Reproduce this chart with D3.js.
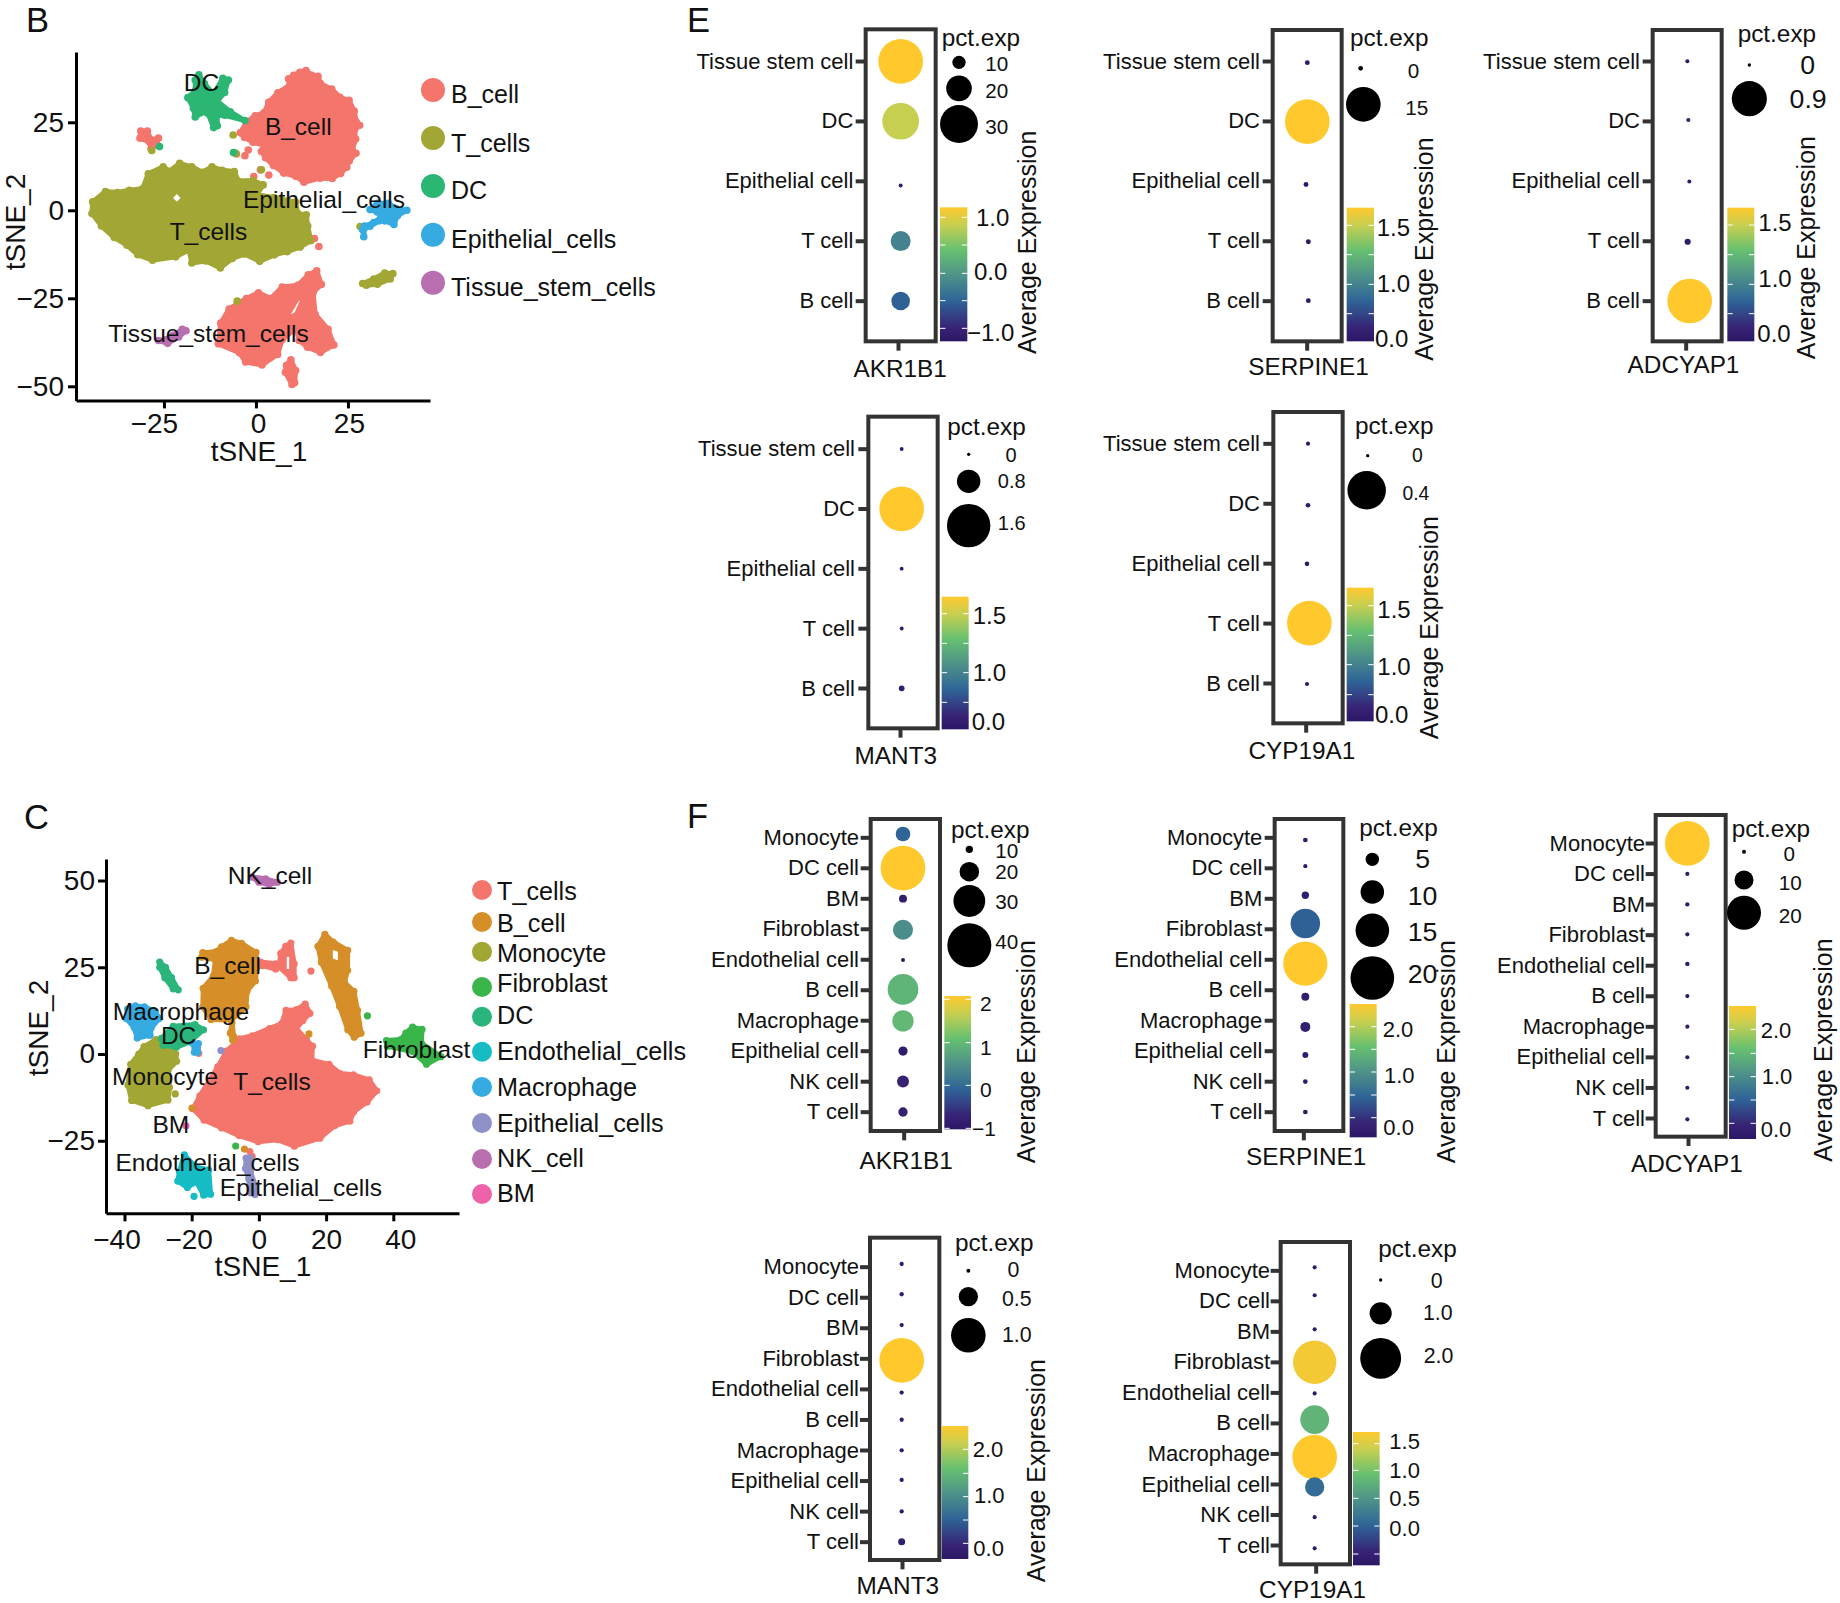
<!DOCTYPE html>
<html><head><meta charset="utf-8">
<script src="https://cdn.jsdelivr.net/npm/d3@7"></script>
<style>html,body{margin:0;background:#fff}text{font-family:"Liberation Sans",Arial,sans-serif;fill:#111}</style>
</head><body><div id="chart"></div>
<script>
/* ---------- t-SNE panel B: cluster outlines in tSNE units ---------- */
const bBCellMain=[[11.8,40.3],[13.6,40.8],[15.3,39.4],[17.1,39.1],[17.9,37],[21.2,35.3],[23.6,32.8],[26.2,31.8],[27.7,28.5],[28.3,25.2],[29.2,24.2],[27.7,22.3],[28.1,20],[27.1,16.7],[28.1,15.7],[26.2,13.4],[25.4,11.5],[23.6,9.6],[21.2,8.1],[17.7,8.1],[13,6.9],[10.6,8.6],[7.1,9.6],[4.1,11.9],[1.8,14.3],[0.6,16.2],[1.2,18.1],[-1.8,19],[-4.1,20.5],[-5.3,21.9],[-3.5,25.2],[-1.2,27.1],[1.2,28],[2.6,31.3],[5.3,34.2],[8.8,36.6],[8.5,38.4],[10,39.4]];
const bBCellSmall=[[-31.3,22.5],[-29.5,22.5],[-28.5,20],[-26.5,20.5],[-27,18.5],[-28.5,17.5],[-29,19.5],[-31.5,20.5]];
const bBCellLower=[[17.1,-16.3],[18.5,-20.3],[16.3,-22.6],[17.1,-29.3],[20.6,-34],[22.1,-38.7],[18.3,-41.1],[14.7,-39.7],[12.4,-37.8],[11.8,-34],[7.1,-37.8],[5.7,-42],[1.2,-44.9],[-3.5,-43.9],[-5.3,-41.1],[-11.2,-38.3],[-10.6,-32.1],[-8.3,-27.8],[-3.5,-24.5],[0,-22.6],[3.5,-24.1],[7.1,-20.7],[11.8,-20.3],[14.7,-17.4]];
const bBCellTail=[[9.5,-42.5],[10.8,-45.5],[10.5,-49],[9.8,-49.5],[8,-46],[8.3,-44]];
const bBCellDots=[[-2.1,17.1],[-5.3,16],[1.2,11.5],[-0.6,9.6],[3.5,10],[15.9,-8],[17.1,-10.3],[-3,15.5]];
const bTCellMain=[[-45.4,2.5],[-41.9,5.6],[-38.7,5.3],[-35.4,6],[-31.8,6.5],[-30.1,11],[-25.9,13.2],[-24.2,11.9],[-21.2,14.3],[-17.7,13.4],[-14.7,11.9],[-11.8,13.4],[-8.8,12.4],[-5.3,11.9],[-4.1,9.1],[0,9.1],[2.9,7.7],[1.2,4.8],[5.9,3.9],[11.8,2.5],[12.4,-0.9],[14.7,-1.3],[15.1,-4.6],[15.9,-8.9],[13,-10.8],[9.4,-12.2],[5.9,-13.2],[1.8,-15.2],[-2.4,-13.2],[-5.9,-14.6],[-9.4,-17.4],[-13.6,-15.5],[-17.7,-16],[-18.6,-12.2],[-22.4,-14.1],[-28.9,-14.9],[-33,-13.2],[-36,-10.3],[-39.5,-8],[-43,-4.6],[-45.6,-0.9]];
const bTCellStrip=[[29,-20.8],[32,-19.5],[35,-17.8],[37.2,-18],[36.5,-19.5],[33,-21],[30,-21.3]];
const bTCellDots=[[-6.2,21.4],[-5.5,16.2],[1.5,11.5],[28.3,-4.6],[-5.1,-25.8],[-28.3,17]];
const bDCMain=[[-15.5,38.5],[-14,36],[-11.5,33],[-9,37.5],[-7.5,37],[-8.5,33.5],[-10.5,31],[-7,28],[-3,25.5],[-8.5,27],[-10.5,27],[-10.5,24],[-11.5,23.5],[-13,27.5],[-14,28],[-16.5,26.5],[-17,29],[-18.5,32],[-16.5,34],[-16.5,37]];
const bDCDots=[[-6.1,16.4],[-26.2,18.1]];
const bEpithelialMain=[[31,0.2],[33,2],[36,2],[38,0.5],[41,0],[38.5,-1.5],[37.5,-4],[35,-3],[33.5,-3],[31,-4.5],[29.5,-5],[29.3,-7.5],[29,-5.5],[29.5,-4.5],[32,-3.5],[34,-2],[33,-0.5]];
const bTissueMain=[[-26.5,-37],[-24.5,-36.8],[-22.5,-35.5],[-20,-33.8],[-19,-34.2],[-21,-36],[-24,-37.8]];
const bHoleT=[[-22.5,3.5],[-21.5,4.6],[-20.5,3.5],[-21.5,2.4]];
const bHoleLower=[[9.5,-29.5],[11.5,-26],[12,-25.5],[10.5,-29]];
const bLegendNames=["B_cell","T_cells","DC","Epithelial_cells","Tissue_stem_cells"];
const bLabels=[["DC",-14.8,36.2],["B_cell",11.5,23.9],["Epithelial_cells",18.5,3.2],["T_cells",-12.9,-5.9],["Tissue_stem_cells",-12.9,-35]];
const bTicksX=[-25,0,25], bTicksY=[-50,-25,0,25];

/* ---------- t-SNE panel C ---------- */
const cTMain=[[14,15.4],[15.5,12.7],[13.3,10.7],[11.3,8.3],[14.6,5],[16.6,3.1],[16.6,-1.2],[21.9,-2.7],[25.2,-5.6],[29.2,-6],[33.9,-7.5],[36.1,-10.8],[33.2,-14.2],[29.2,-17.1],[27.9,-20],[23.3,-21.4],[18.6,-25.2],[10.6,-27.6],[5.3,-25.7],[-0.7,-26.2],[-6.6,-24.3],[-12,-21.9],[-17.3,-19.5],[-20.6,-16.1],[-18.6,-12.3],[-13.3,-3.6],[-10.6,1.2],[-6.6,5],[-2.7,6],[2.7,8.3],[6.6,9.8],[8,13.6],[11.3,13.8]];
const cTUpper=[[9.5,32],[10.5,26],[10.5,22],[9.5,22],[6,25.2],[6.5,29],[8,31]];
const cTUpperExt=[[0.5,26.5],[5,26],[5,24.5],[1,25.5]];
const cTDots=[[15.5,23.9],[-17.9,0.2],[-18.3,1.6],[-2.7,-28.1],[-2,-29.5]];
const cBLeft=[[-8,33.8],[-4.7,32.8],[0,29.9],[0.4,25.1],[0,20.8],[-2.7,17.5],[-3.3,12.7],[-8,8.8],[-14.6,9],[-17.3,12.7],[-17.5,18.4],[-14.6,22.3],[-13.6,28],[-17.9,28.5],[-17.5,29.9],[-13.3,30.4],[-11.3,31.9]];
const cBTail=[[-8,9],[-7.5,5],[-7.8,4],[-8.5,6]];
const cBRight=[[19.3,35.5],[21.9,33.3],[26.6,30.9],[26.8,25.1],[26.3,21.3],[29.2,17.5],[29.9,11.7],[30.8,5],[28.6,3.8],[26.6,6],[23.9,12.7],[20.6,19.4],[17.9,27.1],[17,31.9]];
const cBDots=[[14.9,5.8],[-4.3,-27.4],[-19.9,-15.6]];
const cMonocyte=[[-30.6,5.2],[-26.6,3.1],[-23.9,0.7],[-23.5,-1.7],[-25.9,-4.6],[-25.9,-10.4],[-26.6,-14.2],[-33.2,-15.9],[-38.5,-14.2],[-39.9,-9.4],[-39.2,-2.7],[-36.5,0.7],[-34.6,3.1]];
const cMonocyteDots=[[-24.9,-11.5]];
const cFibroblast=[[45.8,8.8],[49.2,7.9],[49.4,3.1],[55.1,-1.2],[50.5,-3.8],[45.8,-0.3],[37.2,2.1],[36.9,4],[41.2,4.5],[43.2,6.9]];
const cFibroblastDots=[[32.3,11],[-6.9,-26.5]];
const cDCStrip=[[-29.5,26.5],[-27.8,25],[-26,22],[-24,18.5],[-25.5,18.8],[-28,22],[-29.5,25]];
const cDCCenter=[[-29,4.5],[-25.5,8],[-19,8.5],[-16.5,7],[-20.5,3.5],[-24.5,2],[-28.5,2.5]];
const cEndothelial=[[-22.6,-28.1],[-18.6,-31.5],[-14,-32.9],[-13.6,-41.1],[-15.9,-41.6],[-17.9,-37.7],[-21.9,-39.3],[-25.2,-36.8],[-24.6,-33.4]];
const cEndothelialDots=[[-19.3,-41]];
const cMacrophage=[[-37.2,14.8],[-33.9,14.6],[-29.9,12.7],[-28.6,10.3],[-31.2,6.9],[-31.9,4.5],[-36.5,3.6],[-37.9,6.9],[-40.5,10.3],[-39.9,13.6]];
const cMacrophageSmall=[[-19.5,3],[-18,3],[-18.2,0.5],[-19.2,0.5]];
const cEpithelial=[[-3.8,-30],[-2.5,-30],[-2.5,-34],[-1,-38],[-1.2,-40.5],[-2.5,-40],[-3,-36],[-4,-33]];
const cEpithelialDots=[[-11.3,1]];
const cNK=[[-2,51],[2,50.5],[5.5,49.5],[3,48.8],[0,49.5]];
const cBMDots=[[-21.7,-20.7]];
const cHoleRight=[[22,30],[23.5,29.5],[23.5,27],[22,27.5]];
const cHoleUpper=[[8.3,28],[9,28],[9,24.5],[8.3,24.5]];
const cLegendNames=["T_cells","B_cell","Monocyte","Fibroblast","DC","Endothelial_cells","Macrophage","Epithelial_cells","NK_cell","BM"];
const cLabels=[["NK_cell",3.3,51.6],["B_cell",-9.3,25.6],["Macrophage",-23.2,12.2],["DC",-23.9,5.5],["Fibroblast",46.9,1.4],["Monocyte",-27.9,-6.5],["T_cells",3.9,-8],["BM",-26.2,-20.2],["Endothelial_cells",-15.3,-31.3],["Epithelial_cells",12.5,-38.4]];
const cTicksX=[-40,-20,0,20,40], cTicksY=[-25,0,25,50];

/* ---------- dot plots ---------- */
const cellsE=["Tissue stem cell","DC","Epithelial cell","T cell","B cell"];
const cellsF=["Monocyte","DC cell","BM","Fibroblast","Endothelial cell","B cell","Macrophage","Epithelial cell","NK cell","T cell"];
const pctE1=[35.5,29,2.4,15.4,14.3], avgE1=[1.19,0.87,-1.12,-0.2,-0.52];
const pctE2=[0.1,20,0.1,0.15,0.1],   avgE2=[0.05,1.67,0.05,0.03,0.04];
const pctE3=[0.02,0.02,0.02,0.08,1.17], avgE3=[0.05,0.05,0.05,0.08,1.67];
const pctE4=[0.02,1.65,0.02,0.02,0.1], avgE4=[0.05,1.67,0.05,0.05,0.1];
const pctE5=[0.01,0.015,0.015,0.47,0.01], avgE5=[0.05,0.05,0.05,1.67,0.05];
const pctF1=[16,40.6,10.5,20.4,7.3,29.1,21.5,11.6,13.8,11.6], avgF1=[-0.09,2.08,-0.83,0.44,-0.93,0.93,0.99,-0.87,-0.74,-0.8];
const pctF2=[0.7,0.4,2,13,20.3,2.3,3.3,1.3,0.7,0.7], avgF2=[-0.1,-0.1,-0.07,0.5,2.25,-0.07,-0.05,-0.1,-0.1,-0.12];
const pctF3=[27.1,0.1,0.2,0.1,0.3,0.1,0.1,0.1,0.1,0.1], avgF3=[2.5,-0.2,-0.2,-0.2,-0.2,-0.2,-0.2,-0.2,-0.2,-0.2];
const pctF4=[0.01,0.01,0.01,1.33,0.01,0.01,0.01,0.01,0.01,0.1], avgF4=[-0.2,-0.2,-0.2,2.5,-0.2,-0.2,-0.2,-0.2,-0.2,-0.15];
const pctF5=[0.04,0.04,0.04,2.13,0.04,1.36,2.2,0.85,0.04,0.04], avgF5=[-0.62,-0.62,-0.62,1.63,-0.62,0.81,1.7,0.09,-0.62,-0.62];
const sizeBreaksE1=["10","20","30"], sizeBreaksE2=["0","15"], sizeBreaksE3=["0","0.9"], sizeBreaksE4=["0","0.8","1.6"], sizeBreaksE5=["0","0.4"];
const sizeBreaksF1=["10","20","30","40"], sizeBreaksF2=["5","10","15","20"], sizeBreaksF3=["0","10","20"], sizeBreaksF4=["0","0.5","1.0"], sizeBreaksF5=["0","1.0","2.0"];
const barLabelsE1=["1.0","0.0","\u22121.0"], barLabelsE=["1.5","1.0","0.0"], barLabelsF1=["2","1","0","\u22121"], barLabelsF=["2.0","1.0","0.0"], barLabelsF5=["1.5","1.0","0.5","0.0"];

/* ---------- colours ---------- */
const colB={B:"#f4756c",T:"#a2a634",DC:"#2cb673",Epi:"#35abe2",Tissue:"#b86fb0"};
const colC={T:"#f4756c",B:"#d58e28",Mono:"#a2a734",Fib:"#39b54a",DC:"#2bb57c",Endo:"#16bcc4",Mac:"#35abe2",Epi:"#8d91c7",NK:"#b96eb0",BM:"#ee62a8"};
const gradT=[0,0.1,0.3,0.5,0.68,0.87,1], gradC=["#2b1765","#372275","#2f6497","#4f9488","#66c070","#c8cf50","#ffc92e"];
const viridisLike=d3.scaleLinear().domain(gradT).range(gradC);

/* ---------- layout (panel units are 1/3 px, offset by ox/oy) ---------- */
const layout={
E1:{ox:680,oy:0,f:[557,767,88,1024],r:[184,903],end:520,dx:662,ny:[0,0,13,0,0],nx:[0,0,0,0,0],sd:[0,36],sr:[1.5,68],sl:[[837,187,985,192],[837,265,985,272],[837,372,985,380]],sf:62,title:[785,112],bar:[780,862,622,1024],av:[-1.22,1.19],ticks:[652,735,820,902,985],bl:[[888,652],[882,815],[1003,997,1]],bf:72,ae:[1043,727],gene:[660,1105],tx:655},
E2:{ox:1090,oy:0,f:[548,755,90,1024],r:[184,903],end:510,dx:652,ny:[4,1,10,2,-1],nx:[0,0,-4,3,3],sd:[0,20],sr:[7,67],sl:[[812,205,988,212],[820,313,1015,322]],sf:62,title:[780,112],bar:[770,852,623,1024],av:[0,1.67],ticks:[676,764,853,941],bl:[[860,683],[860,852],[855,1015]],bf:72,ae:[1003,747],gene:[655,1098],tx:651},
E3:{ox:1470,oy:0,f:[548,755,90,1024],r:[184,903],end:510,dx:652,ny:[0,-4,1,2,0],nx:[0,3,6,1,7],sd:[0,1.17],sr:[5,67],sl:[[838,195,1035,195],[838,296,1070,297]],sf:80,title:[803,100],bar:[772,853,623,1024],av:[0,1.67],ticks:[675,764,853,941],bl:[[865,668],[865,835],[862,1000]],bf:72,ae:[1010,743],gene:[640,1092],tx:648},
E4:{ox:680,oy:400,f:[565,773,50,985],r:[147,865],end:525,dx:665,ny:[0,0,0,0,0],nx:[0,0,0,0,0],sd:[0,1.65],sr:[5,67],sl:[[866,163,1010,165],[866,244,1037,244],[866,377,1037,368]],sf:60,title:[802,78],bar:[785,866,590,988],av:[0,1.67],ticks:[641,730,818,907],bl:[[878,648],[878,818],[875,965]],bf:72,ae:null,gene:[647,1065],tx:661},
E5:{ox:1090,oy:400,f:[550,758,36,970],r:[131,850],end:510,dx:655,ny:[0,5,1,-1,2],nx:[-1,-1,-4,3,-4],sd:[0,0.47],sr:[5,67],sl:[[833,167,998,165],[830,271,1018,280]],sf:58,title:[795,75],bar:[770,851,563,964],av:[0,1.67],ticks:[617,706,794,884],bl:[[862,630],[862,800],[855,945]],bf:72,ae:[1018,683],gene:[635,1052],tx:648},
F1:{ox:680,oy:790,f:[572,780,87,1023],r:[143,966],end:537,dx:669,ny:[-11,0,0,2,1,-2,1,0,0,0],sd:[10,41],sr:[11,67.8],sl:[[868,178,1015,183],[868,245,1015,245],[868,333,1015,335],[868,466,1015,455]],sf:62,title:[813,118],bar:[793,873,618,1018],av:[-1.02,2.08],ticks:[628,758,886,1015],bl:[[900,640],[900,772],[900,900],[948,1015,1]],bf:63,ae:[1040,785],gene:[678,1110],tx:672},
F2:{ox:1100,oy:800,f:[524,730,57,993],r:[113,936],end:487,dx:616,ny:[7,-6,-10,-17,12,20,19,12,0,0],sd:[0,20.5],sr:[5,67],sl:[[817,178,990,175],[817,276,1012,287],[817,391,1012,395],[817,534,1012,522]],sf:80,title:[778,82],bar:[749,830,612,1012],av:[-0.22,2.25],ticks:[680,748,816,885,953],bl:[[848,688],[852,825],[850,982]],bf:66,ae:[1040,755],gene:[618,1070],tx:611},
F3:{ox:1470,oy:800,f:[557,767,45,1010],r:[130,955],end:525,dx:652,ny:[0,0,0,-2,-5,0,0,0,0,3],sd:[0,27.1],sr:[6,67],sl:[[822,155,975,160],[822,240,995,247],[822,338,995,347]],sf:62,title:[785,85],bar:[777,858,618,1017],av:[-0.33,2.5],ticks:[688,760,830,900,970],bl:[[872,690],[875,828],[872,988]],bf:66,ae:[1060,750],gene:[650,1090],tx:655},
F4:{ox:680,oy:1220,f:[570,778,53,1020],r:[141,966],end:537,dx:665,ny:[-9,-10,-9,5,10,0,0,-3,0,-1],sd:[0,1.33],sr:[6,67],sl:[[865,152,1018,150],[865,230,1055,237],[865,346,1055,343]],sf:64,title:[825,68],bar:[785,865,618,1017],av:[-0.33,2.5],ticks:[688,760,830,900,970],rightOnly:true,bl:[[878,688],[882,827],[880,985]],bf:66,ae:[1070,752],gene:[653,1097],tx:667},
F5:{ox:1100,oy:1220,f:[542,750,66,1033],r:[152,976],end:510,dx:644,ny:[-10,-18,-7,0,2,-11,10,8,7,9],sd:[0,2.2],sr:[5,67],sl:[[842,180,1028,182],[842,280,1058,277],[842,415,1060,408]],sf:64,title:[835,85],bar:[759,839,636,1036],av:[-0.71,1.7],ticks:[671,751,835,918,1002],bl:[[868,663],[868,750],[868,835],[868,925]],bf:66,ae:null,gene:[637,1107],tx:648}
};

const svg=d3.select("#chart").append("svg").attr("width",1840).attr("height",1603).style("display","block");
const defs=svg.append("defs");
const lg=defs.append("linearGradient").attr("id","vir").attr("x1",0).attr("y1",1).attr("x2",0).attr("y2",0);
gradT.forEach((t,i)=>lg.append("stop").attr("offset",t).attr("stop-color",gradC[i]));

/* panel letters */
[["B",26,31.5],["C",24,829],["E",687,31.5],["F",687,828]].forEach(d=>svg.append("text").attr("x",d[1]).attr("y",d[2]).attr("font-size",34.5).text(d[0]));

/* ---------- scatter helper ---------- */
function scatter(cfg){
  const g=svg.append("g");
  const x=d3.scaleLinear().domain(cfg.xd).range(cfg.xr), y=d3.scaleLinear().domain(cfg.yd).range(cfg.yr);
  const pathOf=d3.line().curve(d3.curveLinearClosed);
  // outer outlines mark the edge of the outermost points: their centres sit one point radius inside
  const toPx=(p,inset)=>{
    const pts=p.map(d=>[x(d[0]),y(d[1])]);
    if(!inset) return pts;
    const cx=d3.mean(pts,d=>d[0]), cy=d3.mean(pts,d=>d[1]);
    return pts.map(d=>{const l=Math.hypot(d[0]-cx,d[1]-cy)||1;return [d[0]-(d[0]-cx)/l*inset,d[1]-(d[1]-cy)/l*inset];});
  };
  const drawPoly=(p,color,inset)=>{
    const pts=toPx(p,inset);
    g.append("path").attr("d",pathOf(pts)).attr("fill",color).attr("stroke",color).attr("stroke-width",cfg.sw).attr("stroke-linejoin","round");
    g.selectAll(null).data(pts).join("circle").attr("cx",d=>d[0]).attr("cy",d=>d[1]).attr("r",cfg.pr).attr("fill",color);
  };
  cfg.groups.forEach(c=>{
    (c.outer||[]).forEach(p=>drawPoly(p,c.color,cfg.pr));
    (c.polys||[]).forEach(p=>drawPoly(p,c.color,0));
    g.selectAll(null).data(c.dots||[]).join("circle").attr("cx",d=>x(d[0])).attr("cy",d=>y(d[1])).attr("r",cfg.pr).attr("fill",c.color);
  });
  (cfg.holes||[]).forEach(p=>g.append("path").attr("d",pathOf(toPx(p,0))).attr("fill","#fff"));
  g.selectAll(null).data(cfg.labels).join("text").attr("x",d=>x(d[1])).attr("y",d=>y(d[2])).attr("dy",".35em").attr("text-anchor","middle").attr("font-size",cfg.labelSize).text(d=>d[0]);

  const ax=svg.append("g").attr("transform",`translate(0,${cfg.yr[0]})`).call(d3.axisBottom(x).tickValues(cfg.tx).tickSize(8).tickSizeOuter(0).tickPadding(cfg.padX));
  const ay=svg.append("g").attr("transform",`translate(${cfg.xr[0]},0)`).call(d3.axisLeft(y).tickValues(cfg.ty).tickSize(8).tickSizeOuter(0).tickPadding(cfg.padY));
  [ax,ay].forEach(a=>{a.selectAll("path,line").attr("stroke","#000").attr("stroke-width",3);a.selectAll("text").attr("font-size",28).attr("font-family","Liberation Sans").attr("fill","#111");});
  ax.selectAll("text").attr("dx",(d,i)=>cfg.tdx[i]);
  svg.append("text").attr("x",cfg.xl[0]).attr("y",cfg.xl[1]).attr("dy",".35em").attr("text-anchor","middle").attr("font-size",28).text("tSNE_1");
  svg.append("text").attr("transform",`translate(${cfg.yl[0]},${cfg.yl[1]}) rotate(-90)`).attr("dy",".35em").attr("text-anchor","middle").attr("font-size",28).text("tSNE_2");
  const lgd=svg.append("g");
  cfg.legend.names.forEach((n,i)=>{
    lgd.append("circle").attr("cx",cfg.legend.cx).attr("cy",cfg.legend.cy[i]).attr("r",cfg.legend.r).attr("fill",cfg.legend.colors[i]);
    lgd.append("text").attr("x",cfg.legend.tx).attr("y",cfg.legend.ty[i]).attr("dy",".35em").attr("font-size",cfg.legend.size).text(n);
  });
}

scatter({xd:[-48.9,47.3],xr:[76,430],yd:[-54,45],yr:[400.4,51.9],sw:5,pr:3.8,padX:5,padY:4,labelSize:24.5,labels:bLabels,tx:bTicksX,ty:bTicksY,tdx:[-10,2,1],xl:[259,451],yl:[15,222],
 groups:[
  {color:colB.B,outer:[bBCellMain,bBCellLower],polys:[bBCellSmall,bBCellTail],dots:bBCellDots},
  {color:colB.T,outer:[bTCellMain],polys:[bTCellStrip],dots:bTCellDots},
  {color:colB.DC,polys:[bDCMain],dots:bDCDots},
  {color:colB.Epi,polys:[bEpithelialMain]},
  {color:colB.Tissue,polys:[bTissueMain]}],
 holes:[bHoleT,bHoleLower],
 legend:{names:bLegendNames,colors:[colB.B,colB.T,colB.DC,colB.Epi,colB.Tissue],cx:433,cy:[90,138,186,234.7,282.7],r:12,tx:451,ty:[94,143,190.7,239,287],size:25}});

scatter({xd:[-45.5,59.55],xr:[106,459],yd:[-45.9,56.2],yr:[1213.3,859],sw:5,pr:3.6,padX:8,padY:3,labelSize:24.5,labels:cLabels,tx:cTicksX,ty:cTicksY,tdx:[-8,-3,0,0,7],xl:[263,1266],yl:[38,1028],
 groups:[
  {color:colC.T,outer:[cTMain],polys:[cTUpper,cTUpperExt],dots:cTDots},
  {color:colC.B,outer:[cBLeft,cBRight],polys:[cBTail],dots:cBDots},
  {color:colC.Mono,outer:[cMonocyte],dots:cMonocyteDots},
  {color:colC.Fib,outer:[cFibroblast],dots:cFibroblastDots},
  {color:colC.DC,polys:[cDCStrip,cDCCenter]},
  {color:colC.Endo,outer:[cEndothelial],dots:cEndothelialDots},
  {color:colC.Mac,outer:[cMacrophage],polys:[cMacrophageSmall]},
  {color:colC.Epi,polys:[cEpithelial],dots:cEpithelialDots},
  {color:colC.NK,polys:[cNK]},
  {color:colC.BM,dots:cBMDots}],
 holes:[cHoleRight,cHoleUpper],
 legend:{names:cLegendNames,colors:[colC.T,colC.B,colC.Mono,colC.Fib,colC.DC,colC.Endo,colC.Mac,colC.Epi,colC.NK,colC.BM],cx:482,cy:[890,922,951.7,987,1016.7,1051.7,1087,1123,1159,1194],r:10,tx:497,ty:[891,923,953,982.7,1015,1050.7,1086.7,1122.7,1157.7,1193],size:25.2}});

/* ---------- dot plot helper ---------- */
function dotplot(L,gene,cells,pct,avg,breaks,barLabels){
  const g=svg.append("g").attr("transform",`translate(${L.ox},${L.oy}) scale(${1/3})`);
  const [fl,fr,ft,fb]=L.f;
  const y=d3.scalePoint().domain(cells).range(L.r);
  const size=d3.scaleLinear().domain(L.sd).range(L.sr);
  const color=d3.scaleLinear().domain(L.av).range([0,1]);
  const rows=cells.map((c,i)=>({c,p:pct[i],a:avg[i],dy:(L.ny||[])[i]||0,dx:(L.nx||[])[i]||0}));
  g.selectAll(null).data(rows).join("circle")
    .attr("cx",d=>L.dx+d.dx).attr("cy",d=>y(d.c)+d.dy).attr("r",d=>size(d.p)).attr("fill",d=>viridisLike(color(d.a)));
  g.append("rect").attr("x",fl).attr("y",ft).attr("width",fr-fl).attr("height",fb-ft).attr("fill","none").attr("stroke","#333").attr("stroke-width",12);
  const tickLen=30;
  const ay=g.append("g").attr("transform",`translate(${fl},0)`).call(d3.axisLeft(y).tickSize(tickLen).tickPadding(fl-tickLen-L.end));
  ay.select(".domain").remove();
  ay.selectAll("line").attr("stroke","#333").attr("stroke-width",12);
  ay.selectAll("text").attr("font-size",66).attr("font-family","Liberation Sans").attr("fill","#111");
  const xs=d3.scalePoint().domain([gene]).range([L.tx,L.tx]);
  const ax=g.append("g").attr("transform",`translate(0,${fb})`).call(d3.axisBottom(xs).tickSize(28));
  ax.select(".domain").remove();
  ax.selectAll("line").attr("stroke","#333").attr("stroke-width",12);
  ax.selectAll("text").attr("font-size",73).attr("font-family","Liberation Sans").attr("fill","#111").attr("x",L.gene[0]-L.tx).attr("y",L.gene[1]-fb).attr("dy",".35em");
  // size legend
  g.append("text").attr("x",L.title[0]).attr("y",L.title[1]).attr("dy",".35em").attr("font-size",73).text("pct.exp");
  breaks.forEach((b,i)=>{
    const s=L.sl[i];
    g.append("circle").attr("cx",s[0]).attr("cy",s[1]).attr("r",size(+b)).attr("fill","#000");
    g.append("text").attr("x",s[2]).attr("y",s[3]).attr("dy",".35em").attr("text-anchor","end").attr("font-size",L.sf).text(b);
  });
  // colour bar
  const [bl,br,bt,bb]=L.bar;
  g.append("rect").attr("x",bl).attr("y",bt).attr("width",br-bl).attr("height",bb-bt).attr("fill","url(#vir)");
  const w=(br-bl)/5;
  L.ticks.forEach(t=>{
    if(!L.rightOnly) g.append("line").attr("x1",bl).attr("x2",bl+w).attr("y1",t).attr("y2",t).attr("stroke","#fff").attr("stroke-width",3);
    g.append("line").attr("x1",br-w).attr("x2",br).attr("y1",t).attr("y2",t).attr("stroke","#fff").attr("stroke-width",3);
  });
  barLabels.forEach((b,i)=>{
    const s=L.bl[i];
    g.append("text").attr("x",s[0]).attr("y",s[1]).attr("dy",".35em").attr("text-anchor",s[2]?"end":"start").attr("font-size",L.bf).text(b);
  });
  if(L.ae) g.append("text").attr("transform",`translate(${L.ae[0]},${L.ae[1]}) rotate(-90)`).attr("dy",".35em").attr("text-anchor","middle").attr("font-size",75).text("Average Expression");
}
dotplot(layout.E1,"AKR1B1",cellsE,pctE1,avgE1,sizeBreaksE1,barLabelsE1);
dotplot(layout.E2,"SERPINE1",cellsE,pctE2,avgE2,sizeBreaksE2,barLabelsE);
dotplot(layout.E3,"ADCYAP1",cellsE,pctE3,avgE3,sizeBreaksE3,barLabelsE);
dotplot(layout.E4,"MANT3",cellsE,pctE4,avgE4,sizeBreaksE4,barLabelsE);
dotplot(layout.E5,"CYP19A1",cellsE,pctE5,avgE5,sizeBreaksE5,barLabelsE);
dotplot(layout.F1,"AKR1B1",cellsF,pctF1,avgF1,sizeBreaksF1,barLabelsF1);
dotplot(layout.F2,"SERPINE1",cellsF,pctF2,avgF2,sizeBreaksF2,barLabelsF);
dotplot(layout.F3,"ADCYAP1",cellsF,pctF3,avgF3,sizeBreaksF3,barLabelsF);
dotplot(layout.F4,"MANT3",cellsF,pctF4,avgF4,sizeBreaksF4,barLabelsF);
dotplot(layout.F5,"CYP19A1",cellsF,pctF5,avgF5,sizeBreaksF5,barLabelsF5);
</script></body></html>
